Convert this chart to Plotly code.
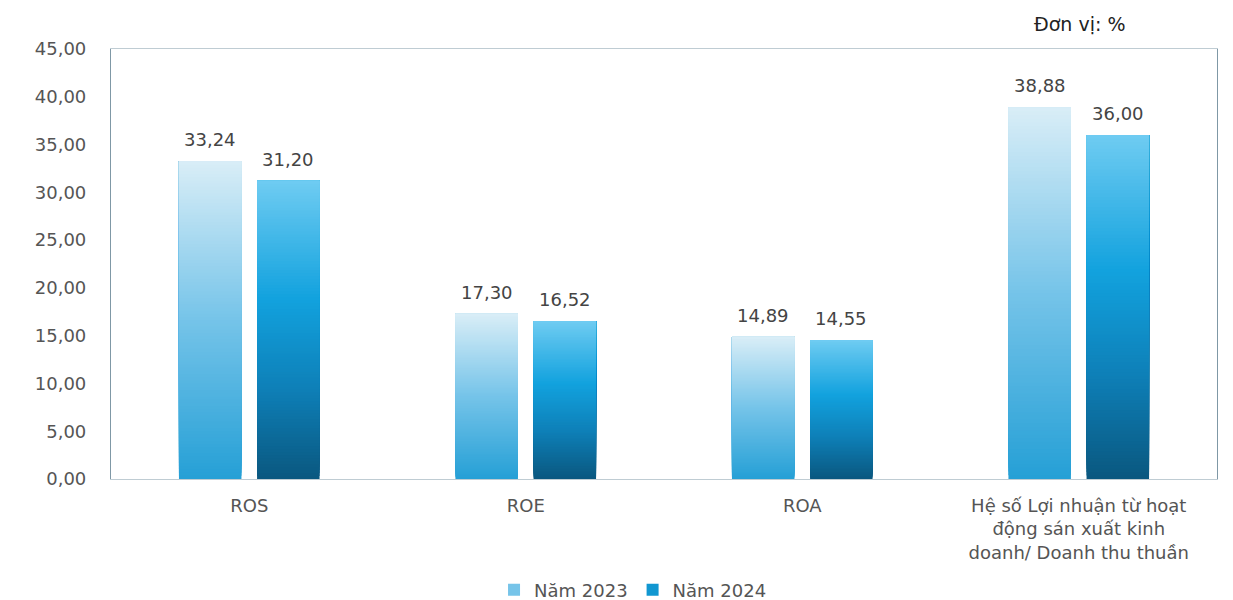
import plotly.graph_objects as go

# Profitability ratios, unit: %
categories = ["ROS", "ROE", "ROA",
              "Hệ số Lợi nhuận từ hoạt<br>động sán xuất kinh<br>doanh/ Doanh thu thuần"]
years = ["Năm 2023", "Năm 2024"]
values_2023 = [33.24, 17.30, 14.89, 38.88]
values_2024 = [31.20, 16.52, 14.55, 36.00]
y_ticks = [0, 5, 10, 15, 20, 25, 30, 35, 40, 45]

# vertical gradient stops (bottom -> top) for each series
grad_2023 = [(0.0, (38, 160, 214)), (0.5, (118, 196, 233)), (1.0, (218, 238, 247))]
grad_2024 = [(0.0, (10, 88, 128)), (0.3, (14, 128, 184)), (0.6, (18, 162, 222)),
             (1.0, (112, 204, 242))]

N_LAYERS = 100
FONT = "DejaVu Sans"


def lerp_color(stops, t):
    for (t0, c0), (t1, c1) in zip(stops[:-1], stops[1:]):
        if t0 <= t <= t1:
            f = (t - t0) / (t1 - t0) if t1 > t0 else 0
            c = [round(a + (b - a) * f) for a, b in zip(c0, c1)]
            return "rgb({},{},{})".format(*c)
    c = stops[-1][1]
    return "rgb({},{},{})".format(*c)


fig = go.Figure()

# Each bar is built from overlapping layers: layer k spans from k/N of the
# value up to the full value, so later (lighter) layers cover the upper part
# and the stack reads as a smooth vertical gradient without seams.
series = [(years[0], values_2023, grad_2023), (years[1], values_2024, grad_2024)]
for name, vals, stops in series:
    for k in range(N_LAYERS):
        t = k / N_LAYERS
        col = lerp_color(stops, t)
        fig.add_trace(go.Bar(
            x=categories,
            y=[v * (1 - t) for v in vals],
            base=[v * t for v in vals],
            offsetgroup=name,
            legendgroup=name,
            name=name,
            showlegend=(k == N_LAYERS // 2),
            marker=dict(color=col, line=dict(width=0)),
            hoverinfo="skip",
        ))

# value labels above each bar
shifts = {years[0]: -39, years[1]: 39}
for name, vals, _ in series:
    for cat, v in zip(categories, vals):
        fig.add_annotation(
            x=cat, y=v, xref="x", yref="y",
            text=f"{v:.2f}".replace(".", ","),
            showarrow=False, xshift=shifts[name], yshift=9,
            yanchor="bottom", xanchor="center",
            font=dict(family=FONT, size=18, color="#444444"),
        )

fig.add_annotation(
    text="Đơn vị: %", xref="paper", yref="paper", x=0.876, y=1.058,
    showarrow=False, xanchor="center", yanchor="middle",
    font=dict(family=FONT, size=19, color="#222222"),
)

fig.update_layout(
    width=1233, height=600,
    margin=dict(l=111, r=16, t=49, b=121, autoexpand=False),
    paper_bgcolor="white", plot_bgcolor="white",
    barmode="group", bargap=0.435, bargroupgap=0.2,
    separators=",.",
    font=dict(family=FONT, size=18, color="#555555"),
    showlegend=True,
    legend=dict(orientation="h", x=0.472, xanchor="center", y=-0.258, yanchor="middle",
                font=dict(family=FONT, size=18, color="#555555"),
                itemwidth=30, tracegroupgap=0, traceorder="normal"),
    xaxis=dict(
        type="category", showgrid=False, showline=True, mirror=True, automargin=False,
        linecolor="#bfccd3", linewidth=1.2, ticks="", ticklabelstandoff=10,
        tickfont=dict(family=FONT, size=18, color="#555555"),
    ),
    yaxis=dict(
        range=[0, 45], tickvals=y_ticks, tickformat=".2f", showgrid=False,
        zeroline=False, showline=True, mirror=True, linecolor="#7f98a6", automargin=False,
        linewidth=1.2, ticks="", ticklabelstandoff=20,
        tickfont=dict(family=FONT, size=18, color="#555555"),
    ),
)

fig.write_html("out.html")
